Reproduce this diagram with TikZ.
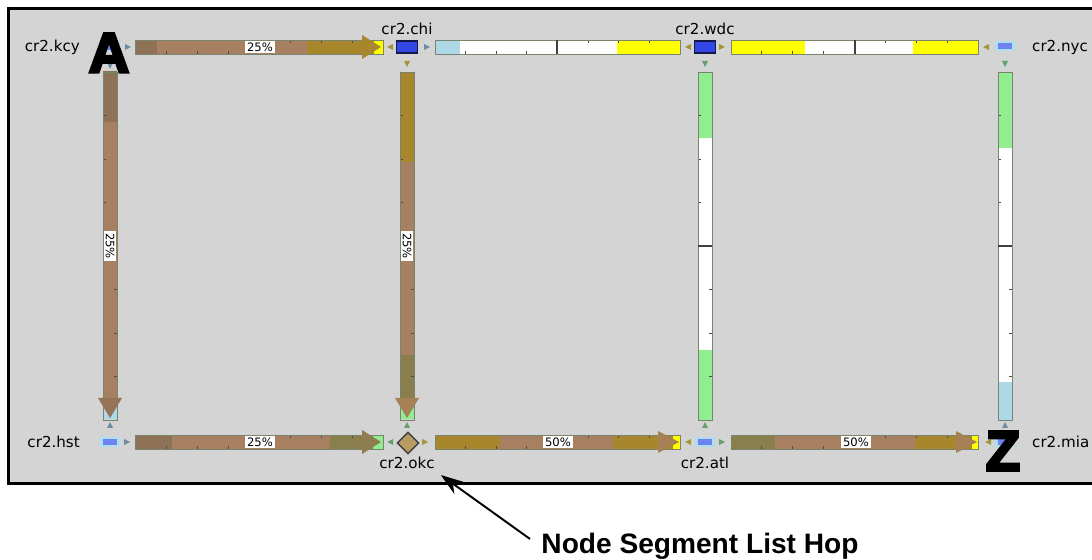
\documentclass[tikz,border=0pt]{standalone}
\usepackage{fontspec}
\setmainfont{DejaVu Sans}
\newfontfamily\notefont{Liberation Sans}
\newfontfamily\letterfont[UprightFont=* Bold, FakeBold=5]{Liberation Sans}
\usetikzlibrary{shapes.geometric,arrows.meta}

\definecolor{panelgray}{RGB}{212,212,212}
\definecolor{linkbrown}{RGB}{166,128,96}
\definecolor{linkdark}{RGB}{142,114,86}
\definecolor{linkgold}{RGB}{168,134,44}
\definecolor{linkolive}{RGB}{138,126,76}
\definecolor{linkgreen}{RGB}{144,238,144}
\definecolor{linkblue}{RGB}{173,216,230}
\definecolor{linkyellow}{RGB}{255,255,0}
\definecolor{barframe}{RGB}{120,132,110}
\definecolor{nodeblue}{RGB}{52,70,230}
\definecolor{nodenavy}{RGB}{20,24,70}
\definecolor{nodelight}{RGB}{110,130,240}
\definecolor{nodehalo}{RGB}{175,222,240}
\definecolor{okctan}{RGB}{182,156,98}
\definecolor{markblue}{RGB}{110,140,160}
\definecolor{markolive}{RGB}{160,150,60}
\definecolor{markgreen}{RGB}{100,160,110}

\begin{document}
\begin{tikzpicture}[x=0.02cm, y=-0.02cm, font=\fontsize{8.6}{10}\selectfont,
  tickmark/.style={black!70, line width=0.5pt},
  divider/.style={black!75, line width=1pt},
  pctlabel/.style={fill=white, inner sep=1pt, font=\fontsize{6.6}{7}\selectfont},
  routerbox/.style={rectangle, fill=nodeblue, draw=nodenavy, line width=0.9pt,
    minimum width=0.42cm, minimum height=0.25cm, inner sep=0pt},
  routersmall/.style={rectangle, fill=nodelight, draw=nodehalo, line width=1.3pt,
    minimum width=0.34cm, minimum height=0.16cm, inner sep=0pt}]
  \useasboundingbox (0,0) rectangle (1092,560);
  \fill[white] (0,0) rectangle (1092,560);
  \fill[panelgray] (8,8) rectangle (1092,483);
  \draw[line width=1.4pt] (1092,8.5) -- (8.5,8.5) -- (8.5,483.5) -- (1092,483.5);

  % top row
  \fill[linkdark] (135,40) rectangle (157,54);
  \fill[linkbrown] (157,40) rectangle (307,54);
  \fill[linkgold] (307,40) rectangle (374,54);
  \fill[linkyellow] (374,40) rectangle (383,54);
  \fill[linkblue] (435,40) rectangle (460,54);
  \fill[white] (460,40) rectangle (617,54);
  \fill[linkyellow] (617,40) rectangle (680,54);
  \fill[linkyellow] (731,40) rectangle (805,54);
  \fill[white] (805,40) rectangle (913,54);
  \fill[linkyellow] (913,40) rectangle (978,54);

  % bottom row
  \fill[linkdark] (135,435) rectangle (172,449);
  \fill[linkbrown] (172,435) rectangle (330,449);
  \fill[linkolive] (330,435) rectangle (373,449);
  \fill[linkgreen] (373,435) rectangle (383,449);
  \fill[linkgold] (435,435) rectangle (500,449);
  \fill[linkbrown] (500,435) rectangle (613,449);
  \fill[linkgold] (613,435) rectangle (673,449);
  \fill[linkyellow] (673,435) rectangle (680,449);
  \fill[linkolive] (731,435) rectangle (775,449);
  \fill[linkbrown] (775,435) rectangle (915,449);
  \fill[linkgold] (915,435) rectangle (972,449);
  \fill[linkyellow] (972,435) rectangle (978,449);

  % columns
  \fill[linkdark] (103,71) rectangle (117,122);
  \fill[linkbrown] (103,122) rectangle (117,406);
  \fill[linkblue] (103,406) rectangle (117,419);
  \fill[linkgold] (400,72) rectangle (414,162);
  \fill[linkbrown] (400,162) rectangle (414,355);
  \fill[linkolive] (400,355) rectangle (414,406);
  \fill[linkgreen] (400,406) rectangle (414,419);
  \fill[linkgreen] (698,72) rectangle (712,138);
  \fill[white] (698,138) rectangle (712,350);
  \fill[linkgreen] (698,350) rectangle (712,420);
  \fill[linkgreen] (998,72) rectangle (1012,148);
  \fill[white] (998,148) rectangle (1012,382);
  \fill[linkblue] (998,382) rectangle (1012,420);

  \foreach \xa/\xb in {135/383, 435/680, 731/978} {
    \foreach \k in {1,2,3} {
      \draw[tickmark] ({\xa+\k*(\xb-\xa)/8},54) -- ++(0,-3);
      \draw[tickmark] ({(\xa+\xb)/2+\k*(\xb-\xa)/8},40) -- ++(0,3);
      \draw[tickmark] ({\xa+\k*(\xb-\xa)/8},449) -- ++(0,-3);
      \draw[tickmark] ({(\xa+\xb)/2+\k*(\xb-\xa)/8},435) -- ++(0,3);
    }
    \draw[barframe, line width=0.5pt] (\xa,40) rectangle (\xb,54);
    \draw[barframe, line width=0.5pt] (\xa,435) rectangle (\xb,449);
  }
  \foreach \xa in {103, 400, 698, 998} {
    \foreach \k in {1,2,3} {
      \draw[tickmark] (\xa,{72+\k*43.5}) -- ++(3,0);
      \draw[tickmark] ({\xa+14},{246+\k*43.5}) -- ++(-3,0);
    }
    \draw[barframe, line width=0.5pt] (\xa,72) rectangle ({\xa+14},420);
  }
  \draw[divider] (557,40) -- (557,54);
  \draw[divider] (855,40) -- (855,54);
  \draw[divider] (698,246) -- (712,246);
  \draw[divider] (998,246) -- (1012,246);

  \node[pctlabel] (p1) at (260,47) {25\%};
  \node[pctlabel] (p2) at (260,442) {25\%};
  \node[pctlabel] (p3) at (558,442) {50\%};
  \node[pctlabel] (p4) at (856,442) {50\%};
  \node[pctlabel, rotate=-90] (p5) at (110,246) {25\%};
  \node[pctlabel, rotate=-90] (p6) at (407,246) {25\%};

  \fill[linkgold] (362,35) -- (381,47) -- (362,59) -- cycle;
  \fill[linkolive!85!linkbrown] (362,430) -- (381,442) -- (362,454) -- cycle;
  \fill[linkbrown!80!linkgold] (658,431) -- (679,442) -- (658,453) -- cycle;
  \fill[linkbrown!80!linkgold] (956,431) -- (977,442) -- (956,453) -- cycle;
  \fill[linkbrown!90!black] (98,398) -- (110,418) -- (122,398) -- cycle;
  \fill[linkbrown!85!linkgold] (395,398) -- (407,418) -- (419,398) -- cycle;

  \foreach \x/\y/\c in {128/47/markblue, 427/47/markblue, 722/47/markolive,
      127/442/markblue, 425/442/markolive, 722/442/markgreen}
    \fill[\c] (\x-3,\y-3) -- (\x+3,\y) -- (\x-3,\y+3) -- cycle;
  \foreach \x/\y/\c in {390/47/markolive, 688/47/markolive, 986/47/markolive,
      390/442/markgreen, 688/442/markolive, 988/442/markolive}
    \fill[\c] (\x+3,\y-3) -- (\x-3,\y) -- (\x+3,\y+3) -- cycle;
  \foreach \x/\y/\c in {110/66/markblue, 407/64/markolive, 705/64/markgreen, 1005/64/markgreen}
    \fill[\c] (\x-3,\y-3) -- (\x+3,\y-3) -- (\x,\y+3) -- cycle;
  \foreach \x/\y/\c in {110/425/markblue, 407/425/markgreen, 705/425/markgreen, 1005/425/markblue}
    \fill[\c] (\x-3,\y+3) -- (\x+3,\y+3) -- (\x,\y-3) -- cycle;

  \node[routersmall] (kcy) at (110,47) {};
  \node[routerbox] (chi) at (407,47) {};
  \node[routerbox] (wdc) at (705,47) {};
  \node[routersmall] (nyc) at (1005,46) {};
  \node[routersmall] (hst) at (110,442) {};
  \node[diamond, aspect=1, fill=okctan, draw=black!75, line width=0.8pt,
    minimum size=0.44cm, inner sep=0pt] (okc) at (408,443) {};
  \node[routersmall] (atl) at (705,442) {};
  \node[routersmall] (mia) at (1005,442) {};

  \node[anchor=east] (kcylbl) at (86,47) {cr2.kcy};
  \node (chilbl) at (407,29) {cr2.chi};
  \node (wdclbl) at (705,29) {cr2.wdc};
  \node[anchor=west] (nyclbl) at (1026,47) {cr2.nyc};
  \node[anchor=east] (hstlbl) at (86,442) {cr2.hst};
  \node (okclbl) at (407,463) {cr2.okc};
  \node (atllbl) at (705,463) {cr2.atl};
  \node[anchor=west] (mialbl) at (1026,442) {cr2.mia};

  \node[font=\letterfont\fontsize{32}{32}\selectfont, inner sep=0pt] (markA) at (109,53) {A};
  \node[font=\letterfont\fontsize{32}{32}\selectfont, inner sep=0pt] (markZ) at (1003,451) {Z};

  \node[font=\notefont\bfseries\fontsize{16}{18}\selectfont] (hop) at (700,546) {Node Segment List Hop};
  \draw[line width=1.1pt, -{Stealth[length=0.44cm, width=0.3cm]}]
    ([xshift=-3pt, yshift=4pt]hop.west) -- (okclbl.south east);
\end{tikzpicture}
\end{document}
